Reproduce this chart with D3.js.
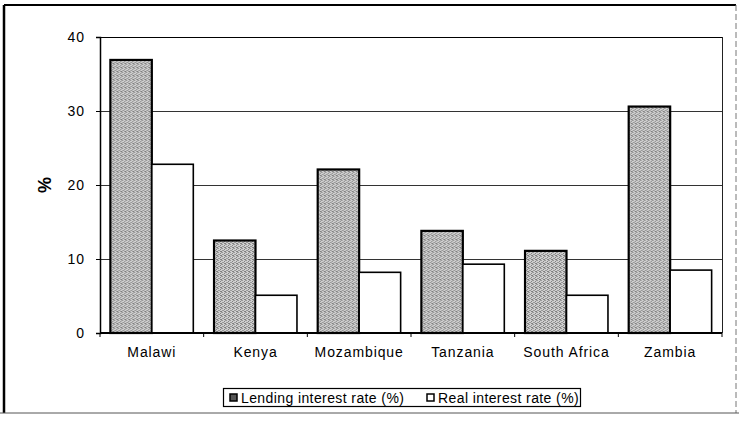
<!DOCTYPE html>
<html>
<head>
<meta charset="utf-8">
<script src="https://cdn.jsdelivr.net/npm/d3@7"></script>
<style>
  html, body { margin: 0; padding: 0; background: #fff; }
  svg { display: block; font-family: "Liberation Sans", Arial, sans-serif; }
</style>
</head>
<body>
<svg id="chart" width="739" height="424"></svg>
<script>
// Interest rates by country (%)
const countries = ["Malawi", "Kenya", "Mozambique", "Tanzania", "South Africa", "Zambia"];
const lendingRate = [36.9, 12.5, 22.1, 13.8, 11.1, 30.6];
const realRate = [22.8, 5.1, 8.2, 9.3, 5.1, 8.5];
const seriesNames = ["Lending interest rate (%)", "Real interest rate (%)"];
const yTicks = [0, 10, 20, 30, 40];

const svg = d3.select("#chart");
const plot = { left: 100, right: 722, top: 37, bottom: 333 };

// Stippled grey fill for the lending bars
const defs = svg.append("defs");
const pat = defs.append("pattern")
  .attr("id", "stipple").attr("patternUnits", "userSpaceOnUse")
  .attr("width", 4).attr("height", 4);
pat.append("rect").attr("width", 4).attr("height", 4).attr("fill", "#d0d0d0");
[[0,0],[2,1],[1,2],[3,3],[0,2],[2,3],[3,0]].forEach(([px, py], i) => {
  pat.append("rect").attr("x", px).attr("y", py).attr("width", 1).attr("height", 1)
    .attr("fill", i % 2 ? "#808080" : "#989898");
});

// Outer chart frame
svg.append("line").attr("x1", 4).attr("x2", 736).attr("y1", 5).attr("y2", 5)
  .attr("stroke", "#000").attr("stroke-width", 2);
svg.append("line").attr("x1", 4).attr("x2", 4).attr("y1", 5).attr("y2", 413)
  .attr("stroke", "#000").attr("stroke-width", 2.5);
svg.append("line").attr("x1", 736).attr("x2", 736).attr("y1", 5).attr("y2", 413)
  .attr("stroke", "#777").attr("stroke-width", 1).attr("stroke-dasharray", "6,3");
svg.append("line").attr("x1", 0).attr("x2", 739).attr("y1", 413).attr("y2", 413)
  .attr("stroke", "#555").attr("stroke-width", 1);

const x0 = d3.scaleBand().domain(countries).range([plot.left, plot.right])
  .paddingInner(0.2).paddingOuter(0.1);
const x1 = d3.scaleBand().domain([0, 1]).range([0, x0.bandwidth()]);
const y = d3.scaleLinear().domain([0, 40]).range([plot.bottom, plot.top]);

// Horizontal gridlines
svg.append("g").selectAll("line").data(yTicks.filter(t => t > 0)).join("line")
  .attr("x1", plot.left).attr("x2", plot.right)
  .attr("y1", d => Math.round(y(d)) + 0.5).attr("y2", d => Math.round(y(d)) + 0.5)
  .attr("stroke", d => d === 40 ? "#000" : "#333").attr("stroke-width", 1);

// Plot area right border
svg.append("line").attr("x1", plot.right + 0.5).attr("x2", plot.right + 0.5)
  .attr("y1", plot.top).attr("y2", plot.bottom)
  .attr("stroke", "#222").attr("stroke-width", 1);

// Bars
const groups = svg.append("g").selectAll("g").data(countries).join("g")
  .attr("transform", d => `translate(${x0(d)},0)`);

groups.append("rect")
  .attr("x", x1(0)).attr("width", x1.bandwidth())
  .attr("y", (d, i) => y(lendingRate[i]))
  .attr("height", (d, i) => y(0) - y(lendingRate[i]))
  .attr("fill", "url(#stipple)").attr("stroke", "#000").attr("stroke-width", 2.2);

groups.append("rect")
  .attr("x", x1(1)).attr("width", x1.bandwidth())
  .attr("y", (d, i) => y(realRate[i]))
  .attr("height", (d, i) => y(0) - y(realRate[i]))
  .attr("fill", "#fff").attr("stroke", "#000").attr("stroke-width", 1.6);

// Y axis
const yAxis = d3.axisLeft(y).tickValues(yTicks).tickSize(4).tickPadding(11);
const gy = svg.append("g").attr("transform", `translate(${plot.left},0)`).call(yAxis);
gy.select(".domain").attr("stroke", "#000").attr("stroke-width", 1.5);
gy.selectAll(".tick line").attr("stroke", "#000");
gy.selectAll(".tick text").attr("font-size", 14).attr("letter-spacing", 1).attr("fill", "#000")
  .attr("font-family", "Liberation Sans, Arial, sans-serif");

// X axis with ticks between categories
const gx = svg.append("g").attr("transform", `translate(0,${plot.bottom})`);
gx.append("line").attr("x1", plot.left).attr("x2", plot.right)
  .attr("stroke", "#000").attr("stroke-width", 2);
const step = x0.step();
const boundaries = d3.range(countries.length + 1).map(i => plot.left + i * step);
gx.selectAll(".bt").data(boundaries).join("line").attr("class", "bt")
  .attr("x1", d => d).attr("x2", d => d).attr("y1", 0).attr("y2", 4)
  .attr("stroke", "#000");
gx.selectAll(".lbl").data(countries).join("text").attr("class", "lbl")
  .attr("x", d => x0(d) + x0.bandwidth() / 2).attr("y", 24)
  .attr("text-anchor", "middle").attr("font-size", 14).attr("letter-spacing", 0.9)
  .attr("fill", "#000")
  .text(d => d);

// Y axis title
svg.append("text")
  .attr("transform", "translate(51,185) rotate(-90)")
  .attr("text-anchor", "middle").attr("font-size", 18).attr("font-weight", "bold")
  .text("%");

// Legend
const legend = svg.append("g");
legend.append("rect").attr("x", 223.5).attr("y", 388.5).attr("width", 357).attr("height", 18)
  .attr("fill", "#fff").attr("stroke", "#000").attr("stroke-width", 1.2);
const items = [
  { name: seriesNames[0], sx: 230, tx: 241, fill: "#555" },
  { name: seriesNames[1], sx: 427, tx: 438, fill: "#fff" }
];
items.forEach(it => {
  legend.append("rect").attr("x", it.sx).attr("y", 394).attr("width", 7).attr("height", 7)
    .attr("fill", it.fill).attr("stroke", "#000").attr("stroke-width", 1.5);
  legend.append("text").attr("x", it.tx).attr("y", 402.5)
    .attr("font-size", 14).attr("letter-spacing", 0.4).attr("fill", "#000").text(it.name);
});
</script>
</body>
</html>
